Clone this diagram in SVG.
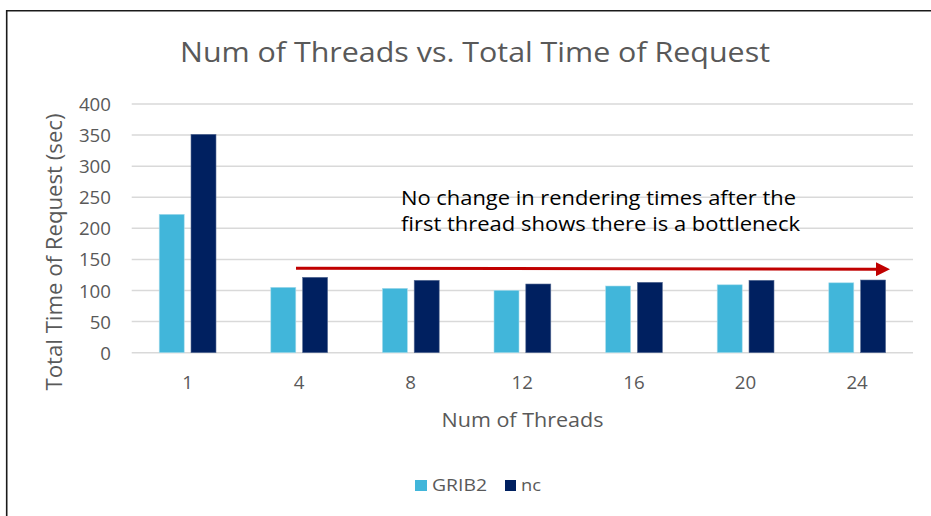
<svg xmlns="http://www.w3.org/2000/svg" width="931" height="516" viewBox="0 0 931 516">
  <style>
    .lbl { font-family: "Open Sans", "Liberation Sans", sans-serif; fill: #595959; }
    .tick { font-size: 18.7px; }
    .ytick { text-anchor: end; }
    .xtick { text-anchor: middle; }
    .grid { stroke: #D9D9D9; stroke-width: 1.5; }
    .g2 { fill: #41B6DA; stroke: #A9DCEC; stroke-width: 0.6; }
    .nc { fill: #002060; stroke: #5A6F96; stroke-width: 0.6; }
    .note { font-family: "Open Sans", "Liberation Sans", sans-serif; font-size: 20px; fill: #000000; }
  </style>
  <defs>
    <marker id="arrowHead" viewBox="0 0 14 14" refX="0" refY="7" markerWidth="14" markerHeight="14" markerUnits="userSpaceOnUse" orient="auto">
      <polygon points="0,0 14,7 0,14" fill="#C00000"/>
    </marker>
  </defs>

  <rect x="0" y="0" width="931" height="516" fill="#FFFFFF"/>
  <!-- chart frame (left and top edges) -->
  <path d="M6.7,516 V10.7 H931" fill="none" stroke="#1A1A1A" stroke-width="1.6"/>

  <!-- title -->
  <text id="title" class="lbl" x="475" y="62" font-size="27" text-anchor="middle" textLength="590" lengthAdjust="spacingAndGlyphs">Num of Threads vs. Total Time of Request</text>

  <!-- gridlines -->
  <g id="gridlines">
    <line class="grid" x1="131.7" y1="352.7" x2="913" y2="352.7"/>
    <line class="grid" x1="131.7" y1="321.6" x2="913" y2="321.6"/>
    <line class="grid" x1="131.7" y1="290.5" x2="913" y2="290.5"/>
    <line class="grid" x1="131.7" y1="259.4" x2="913" y2="259.4"/>
    <line class="grid" x1="131.7" y1="228.3" x2="913" y2="228.3"/>
    <line class="grid" x1="131.7" y1="197.2" x2="913" y2="197.2"/>
    <line class="grid" x1="131.7" y1="166.2" x2="913" y2="166.2"/>
    <line class="grid" x1="131.7" y1="135.1" x2="913" y2="135.1"/>
    <line class="grid" x1="131.7" y1="104" x2="913" y2="104"/>
  </g>

  <!-- value axis labels -->
  <g id="y-axis" class="lbl tick ytick">
    <text x="111" y="359.7">0</text>
    <text x="111" y="328.6">50</text>
    <text x="111" y="297.5">100</text>
    <text x="111" y="266.4">150</text>
    <text x="111" y="235.3">200</text>
    <text x="111" y="204.2">250</text>
    <text x="111" y="173.2">300</text>
    <text x="111" y="142.1">350</text>
    <text x="111" y="111">400</text>
  </g>
  <text id="y-title" class="lbl" font-size="21.5" text-anchor="middle" transform="translate(62,252) rotate(-90)" textLength="277" lengthAdjust="spacingAndGlyphs">Total Time of Request (sec)</text>

  <!-- bars: GRIB2 -->
  <g id="series-grib2">
    <rect class="g2" x="159.2" y="214.3" width="25" height="138.4"/>
    <rect class="g2" x="270.8" y="287.3" width="25" height="65.4"/>
    <rect class="g2" x="382.4" y="288.3" width="25" height="64.4"/>
    <rect class="g2" x="494" y="290.3" width="25" height="62.4"/>
    <rect class="g2" x="605.6" y="286" width="25" height="66.7"/>
    <rect class="g2" x="717.2" y="284.8" width="25" height="67.9"/>
    <rect class="g2" x="828.8" y="282.8" width="25" height="69.9"/>
  </g>
  <!-- bars: nc -->
  <g id="series-nc">
    <rect class="nc" x="191" y="134.3" width="25" height="218.4"/>
    <rect class="nc" x="302.6" y="277.3" width="25" height="75.4"/>
    <rect class="nc" x="414.2" y="280.3" width="25" height="72.4"/>
    <rect class="nc" x="525.8" y="284" width="25" height="68.7"/>
    <rect class="nc" x="637.4" y="282.3" width="25" height="70.4"/>
    <rect class="nc" x="749" y="280.3" width="25" height="72.4"/>
    <rect class="nc" x="860.6" y="280" width="25" height="72.7"/>
  </g>

  <!-- category axis labels -->
  <g id="x-axis" class="lbl tick xtick">
    <text x="187.5" y="389">1</text>
    <text x="299.1" y="389">4</text>
    <text x="410.7" y="389">8</text>
    <text x="522.3" y="389">12</text>
    <text x="633.9" y="389">16</text>
    <text x="745.5" y="389">20</text>
    <text x="857.1" y="389">24</text>
  </g>
  <text id="x-title" class="lbl" x="522.5" y="427" font-size="20.5" text-anchor="middle" textLength="162" lengthAdjust="spacingAndGlyphs">Num of Threads</text>

  <!-- annotation arrow -->
  <g id="connectors">
    <line x1="296" y1="268.2" x2="876" y2="269.2" stroke="#C00000" stroke-width="3" marker-end="url(#arrowHead)"/>
  </g>

  <g id="note">
    <text class="note" x="401" y="205" textLength="395" lengthAdjust="spacingAndGlyphs">No change in rendering times after the</text>
    <text class="note" x="401" y="231" textLength="399" lengthAdjust="spacingAndGlyphs">first thread shows there is a bottleneck</text>
  </g>

  <!-- legend -->
  <g id="legend">
    <rect x="415" y="480" width="12" height="11" fill="#41B6DA"/>
    <text class="lbl" x="432" y="491" font-size="17" textLength="55" lengthAdjust="spacingAndGlyphs">GRIB2</text>
    <rect x="505" y="480" width="11" height="11" fill="#002060"/>
    <text class="lbl" x="521" y="491" font-size="17" textLength="20" lengthAdjust="spacingAndGlyphs">nc</text>
  </g>
</svg>
